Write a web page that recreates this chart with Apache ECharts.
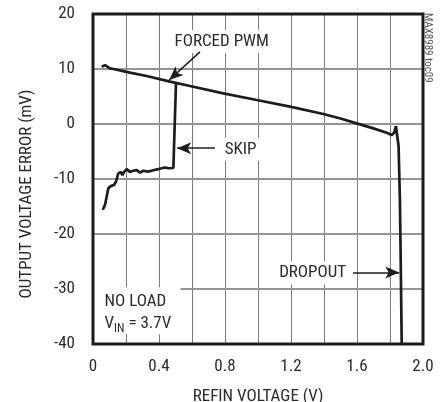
<!DOCTYPE html>
<html>
<head>
<meta charset="utf-8">
<script src="https://cdn.jsdelivr.net/npm/echarts@6/dist/echarts.min.js"></script>
<style>
html,body{margin:0;padding:0;background:#fff;}
#c{width:441px;height:402px;}
</style>
</head>
<body>
<div id="c"></div>
<script>
// ---- data ----
const xTickLabels = ['0', '0.4', '0.8', '1.2', '1.6', '2.0'];
const yTickValues = [-40, -30, -20, -10, 0, 10, 20];

// FORCED PWM curve (REFIN V, error mV)
const pwmX = [0.053, 0.073, 0.103, 0.123, 0.224, 0.325, 0.467, 0.588, 0.79, 0.992, 1.194, 1.396, 1.50, 1.598, 1.699, 1.78, 1.81, 1.825, 1.836, 1.846, 1.852, 1.857, 1.86, 1.865, 1.871];
const pwmY = [10.4, 10.7, 10.1, 10.0, 9.33, 8.73, 7.7, 6.9, 5.58, 4.36, 3.15, 1.82, 1.0, 0.12, -0.8, -1.6, -2.0, -1.6, -0.4, -0.6, -4.0, -10.2, -13.8, -25.0, -40.0];

// SKIP curve
const skipX = [0.059, 0.073, 0.093, 0.107, 0.127, 0.139, 0.153, 0.168, 0.178, 0.188, 0.204, 0.224, 0.244, 0.265, 0.285, 0.305, 0.335, 0.365, 0.396, 0.416, 0.436, 0.457, 0.487, 0.503];
const skipY = [-15.6, -14.7, -11.7, -11.3, -11.1, -10.5, -9.0, -8.7, -9.3, -8.7, -8.2, -8.7, -8.5, -8.4, -8.85, -8.5, -8.65, -8.4, -8.2, -8.05, -7.9, -8.05, -8.0, 7.4];

// annotation arrows: [fromX, fromY, toX, toY] in data units
const arrowPwm = [0.648, 13.1, 0.462, 8.0];
const arrowSkip = [0.739, -4.4, 0.51, -4.4];
const arrowDrop = [1.576, -27.0, 1.856, -27.0];

// annotation labels
const labelPwm = { text: 'FORCED PWM', x: 0.78, y: 15.0 };
const labelSkip = { text: 'SKIP', x: 0.894, y: -4.6 };
const labelDrop = { text: 'DROPOUT', x: 1.331, y: -27.1 };
const labelLoad = { x: 0.07, y: -30.4 };
const yAxisTitle = 'OUTPUT VOLTAGE ERROR (mV)';
const sideNote = 'MAX8989 toc09';

const FONT = "'Liberation Sans Narrow', 'Roboto Condensed', 'Arial Narrow', 'Liberation Sans', sans-serif";
const TXT = '#2b2b2b';
const INK = '#1c1c1c';
const GRIDC = '#7a7a7a';
const HGRIDC = '#959595';

const zip = (xs, ys) => xs.map((x, i) => [x, ys[i]]);

const chart = echarts.init(document.getElementById('c'), null, { renderer: 'canvas' });

function arrowLine(a) {
  return [{ coord: [a[0], a[1]] }, { coord: [a[2], a[3]] }];
}

chart.setOption({
  animation: false,
  backgroundColor: '#fff',
  grid: { left: 93, right: 18, top: 14, bottom: 58, containLabel: false, outerBoundsMode: 'none' },
  xAxis: {
    type: 'value', min: 0, max: 2.0, interval: 0.2,
    name: 'REFIN VOLTAGE (V)', nameLocation: 'middle', nameGap: 44,
    nameTextStyle: { fontFamily: FONT, fontSize: 17, color: TXT },
    axisLine: { show: false },
    axisTick: { show: true, length: 0, lineStyle: { color: GRIDC, width: 0 } },
    axisLabel: {
      show: true, margin: 14, fontFamily: FONT, fontSize: 17, color: TXT,
      formatter: v => { const i = Math.round(v / 0.2); return i % 2 === 0 ? xTickLabels[i / 2] : ''; }
    },
    splitLine: { show: true, lineStyle: { color: GRIDC, width: 1, type: 'solid', opacity: 1 } }
  },
  yAxis: {
    type: 'value', min: yTickValues[0], max: yTickValues[yTickValues.length - 1], interval: 10,
    axisLine: { show: false },
    axisTick: { show: true, length: 0, lineStyle: { color: GRIDC, width: 0 } },
    axisLabel: { show: true, margin: 18, fontFamily: FONT, fontSize: 17, color: TXT },
    splitLine: { show: false }
  },
  series: [
    {
      type: 'line', data: zip(pwmX, pwmY), showSymbol: false, z: 5,
      lineStyle: { color: INK, width: 2.7 }
    },
    {
      type: 'line', data: zip(skipX, skipY), showSymbol: false, z: 5,
      lineStyle: { color: INK, width: 2.7 }
    },
    {
      type: 'line', data: [], z: 6,
      markLine: {
        silent: true, animation: false,
        symbol: ['none', 'arrow'], symbolSize: [9, 14],
        label: { show: false },
        lineStyle: { color: INK, width: 1.6, type: 'solid' },
        data: [arrowLine(arrowPwm), arrowLine(arrowSkip), arrowLine(arrowDrop)]
      }
    }
  ]
});

function px(x, y) { return chart.convertToPixel({ gridIndex: 0 }, [x, y]); }

function label(l) {
  const p = px(l.x, l.y);
  return {
    type: 'text', x: p[0], y: p[1], z: 3,
    style: {
      text: l.text, fill: TXT, font: '17px ' + FONT,
      align: 'center', verticalAlign: 'middle',
      backgroundColor: '#fff', padding: [3, 4]
    }
  };
}

const tl = px(0, 20), br = px(2.0, -40);
const lp = px(labelLoad.x, labelLoad.y);
const boxR = px(0.53, -30)[0];

// horizontal grid lines at the y ticks, placed through the y scale
const hGrid = yTickValues.slice(1, -1).map(v => {
  const yy = Math.round(px(0, v)[1]);
  return {
    type: 'rect', z: 2, silent: true,
    shape: { x: tl[0], y: yy - 1, width: br[0] - tl[0], height: 2 },
    style: { fill: HGRIDC }
  };
});

chart.setOption({
  graphic: hGrid.concat([
    label(labelPwm),
    label(labelSkip),
    label(labelDrop),
    {
      type: 'rect', z: 3, shape: { x: tl[0], y: lp[1] - 4, width: boxR - tl[0], height: 47 },
      style: { fill: '#fff' }
    },
    {
      type: 'text', x: lp[0], y: lp[1], z: 4,
      style: {
        rich: {
          n: { font: '17px ' + FONT, fill: TXT, lineHeight: 22 },
          s: { font: '12px ' + FONT, fill: TXT, lineHeight: 22, verticalAlign: 'bottom', padding: [8, 0, 0, 0] }
        },
        text: '{n|NO LOAD}\n{n|V}{s|IN}{n| = 3.7V}',
        align: 'left', verticalAlign: 'top'
      }
    },
    {
      type: 'rect', z: 20, silent: true,
      shape: { x: tl[0], y: tl[1], width: br[0] - tl[0], height: br[1] - tl[1] },
      style: { fill: 'none', stroke: INK, lineWidth: 3 }
    },
    {
      type: 'text', x: 27, y: (tl[1] + br[1]) / 2 + 15, rotation: Math.PI / 2, z: 4,
      style: { text: yAxisTitle, fill: TXT, font: '17px ' + FONT, align: 'center', verticalAlign: 'middle' }
    },
    {
      type: 'text', x: 428, y: 13, rotation: -Math.PI / 2, z: 4,
      style: { text: sideNote, fill: '#555', font: '11px ' + FONT, align: 'left', verticalAlign: 'middle' }
    }
  ])
});
</script>
</body>
</html>
